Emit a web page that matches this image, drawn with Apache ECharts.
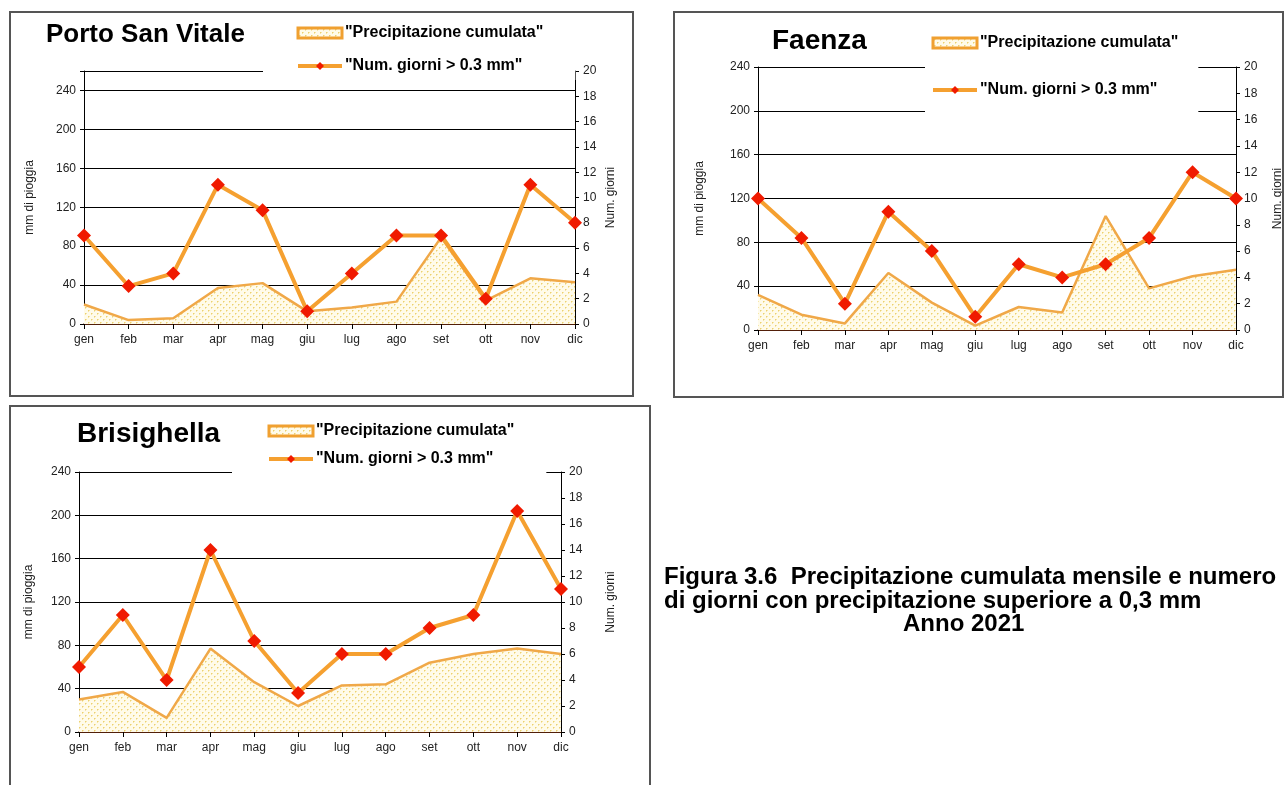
<!DOCTYPE html>
<html>
<head>
<meta charset="utf-8">
<script src="https://cdn.jsdelivr.net/npm/echarts@6/dist/echarts.min.js"></script>
<style>
html,body{margin:0;padding:0;background:#fff;}
#main{width:1285px;height:785px;}
</style>
</head>
<body>
<div id="main"></div>
<script>
// ---- data ----
const months = ['gen','feb','mar','apr','mag','giu','lug','ago','set','ott','nov','dic'];
const leftTicks = [0,40,80,120,160,200,240];
const rightTicks = [0,2,4,6,8,10,12,14,16,18,20];

const portoPrecip = [20,4,6,37,42,13,17,23,89,24,47,43];
const portoDays   = [7,3,4,11,9,1,4,7,7,2,11,8];

const faenzaPrecip = [32,14,6,52,25,4,21,16,104,38,49,55];
const faenzaDays   = [10,7,2,9,6,1,5,4,5,7,12,10];

const brisPrecip = [30,37,13,77,46,24,43,44,64,72,77,72];
const brisDays   = [5,9,4,14,7,3,6,6,8,9,17,11];

const nameArea = 'Precipitazione cumulata';
const nameLine = 'Num. giorni > 0.3 mm';

// ---- pattern for area ----
function makePattern(){
  const c = document.createElement('canvas');
  c.width = 6; c.height = 6;
  const g = c.getContext('2d');
  g.fillStyle = '#fffbea'; g.fillRect(0,0,6,6);
  g.fillStyle = '#ecd070';
  g.fillRect(1,1,1,1); g.fillRect(4,4,1,1);
  g.fillStyle = '#f6e6a8';
  g.fillRect(2,1,1,1); g.fillRect(5,4,1,1); g.fillRect(1,2,1,1); g.fillRect(4,5,1,1);
  return c;
}
const pat = {image: makePattern(), repeat: 'repeat'};

const FONT = '"Liberation Sans", Arial, sans-serif';
const charts = [
  {title:'Porto San Vitale', tl:46, tt:22, tsize:26, grid:{left:84, right:710, top:71, bottom:461}, leftMax:260,
   precip:portoPrecip, days:portoDays,
   legend:{left:263, top:19, gap:17, pad:[6,32,6,33]}, lgap:48, rgap:30},
  {title:'Faenza', tl:772, tt:27, tsize:28, grid:{left:758, right:45, top:67, bottom:455}, leftMax:240,
   precip:faenzaPrecip, days:faenzaDays,
   legend:{left:925, top:30, gap:31, pad:[5,20,18,6]}, lgap:52, rgap:36},
  {title:'Brisighella', tl:77, tt:420, tsize:28, grid:{left:79, right:724, top:472, bottom:53}, leftMax:240,
   precip:brisPrecip, days:brisDays,
   legend:{left:232, top:418, gap:12, pad:[5,32,10,35]}, lgap:44, rgap:44}
];

const option = {
  animation:false,
  textStyle:{fontFamily:FONT},
  title:[], grid:[], xAxis:[], yAxis:[], series:[], legend:[],
  graphic:[
    {type:'rect', shape:{x:10,y:12,width:623,height:384}, style:{fill:'none', stroke:'#555', lineWidth:2}, z:100},
    {type:'rect', shape:{x:674,y:12,width:609,height:385}, style:{fill:'none', stroke:'#555', lineWidth:2}, z:100},
    {type:'rect', shape:{x:10,y:406,width:640,height:390}, style:{fill:'none', stroke:'#555', lineWidth:2}, z:100},
    {type:'text', left:664, top:565, style:{text:'Figura 3.6  Precipitazione cumulata mensile e numero', font:'bold 24px '+FONT, fill:'#000'}},
    {type:'text', left:664, top:589, style:{text:'di giorni con precipitazione superiore a 0,3 mm', font:'bold 24px '+FONT, fill:'#000'}},
    {type:'text', left:903, top:612, style:{text:'Anno 2021', font:'bold 24px '+FONT, fill:'#000'}}
  ]
};

charts.forEach((c,i)=>{
  option.title.push({text:c.title, left:c.tl, top:c.tt, padding:0,
    textStyle:{fontSize:c.tsize, fontWeight:'bold', color:'#000', fontFamily:FONT}});
  option.grid.push(Object.assign({containLabel:false}, c.grid));
  option.xAxis.push({type:'category', gridIndex:i, data:months, boundaryGap:false,
    axisLine:{lineStyle:{color:'#6e2a0c', width:1.5}},
    axisTick:{show:true, length:5, lineStyle:{color:'#000'}},
    axisLabel:{color:'#222', fontSize:12, margin:10, fontFamily:FONT}});
  option.yAxis.push({type:'value', gridIndex:i, min:0, max:c.leftMax, interval:40,
    name:'mm di pioggia', nameLocation:'middle', nameGap:c.lgap, nameRotate:90,
    nameTextStyle:{fontSize:12, color:'#222', fontFamily:FONT},
    axisLine:{show:true, lineStyle:{color:'#000'}},
    axisTick:{show:true, length:4, lineStyle:{color:'#000'}},
    axisLabel:{color:'#222', fontSize:12, fontFamily:FONT, formatter:v=> leftTicks.indexOf(v)>=0 ? String(v) : ''},
    splitLine:{show:true, lineStyle:{color:'#000', width:1}}});
  option.yAxis.push({type:'value', gridIndex:i, position:'right', min:0, max:20, interval:2,
    name:'Num. giorni', nameLocation:'middle', nameGap:c.rgap, nameRotate:90,
    nameTextStyle:{fontSize:12, color:'#222', fontFamily:FONT},
    axisLine:{show:true, lineStyle:{color:'#000'}},
    axisTick:{show:true, length:4, lineStyle:{color:'#000'}},
    axisLabel:{color:'#222', fontSize:12, fontFamily:FONT, formatter:v=> rightTicks.indexOf(v)>=0 ? String(v) : ''},
    splitLine:{show:false}});
  option.series.push({type:'line', name:nameArea, xAxisIndex:i, yAxisIndex:2*i, data:c.precip,
    showSymbol:false, symbol:'none', z:2,
    lineStyle:{color:'#f0a848', width:2.5},
    itemStyle:{color:'#f0a848'},
    areaStyle:{color:pat, opacity:1}});
  option.series.push({type:'line', name:nameLine, xAxisIndex:i, yAxisIndex:2*i+1, data:c.days,
    symbol:'diamond', symbolSize:14, z:3,
    lineStyle:{color:'#f5a030', width:4},
    itemStyle:{color:'#f01a00', borderColor:'#e01000', borderWidth:0}});
  option.legend.push({orient:'vertical', left:c.legend.left, top:c.legend.top,
    itemGap:c.legend.gap, padding:c.legend.pad, backgroundColor:'#fff', itemWidth:44, itemHeight:10,
    selectedMode:false, z:10,
    textStyle:{fontSize:16, fontWeight:'bold', color:'#000', fontFamily:FONT, padding:[0,0,0,-2]},
    formatter:n=>'"'+n+'"',
    data:[
      {name:nameArea, icon:'rect', itemStyle:{color:pat, borderColor:'#f0a030', borderWidth:3}},
      {name:nameLine, lineStyle:{color:'#f5a030', width:4}, itemStyle:{color:'#f01a00'}}
    ]});
});

const chart = echarts.init(document.getElementById('main'), null, {renderer:'canvas'});
chart.setOption(option);
</script>
</body>
</html>
